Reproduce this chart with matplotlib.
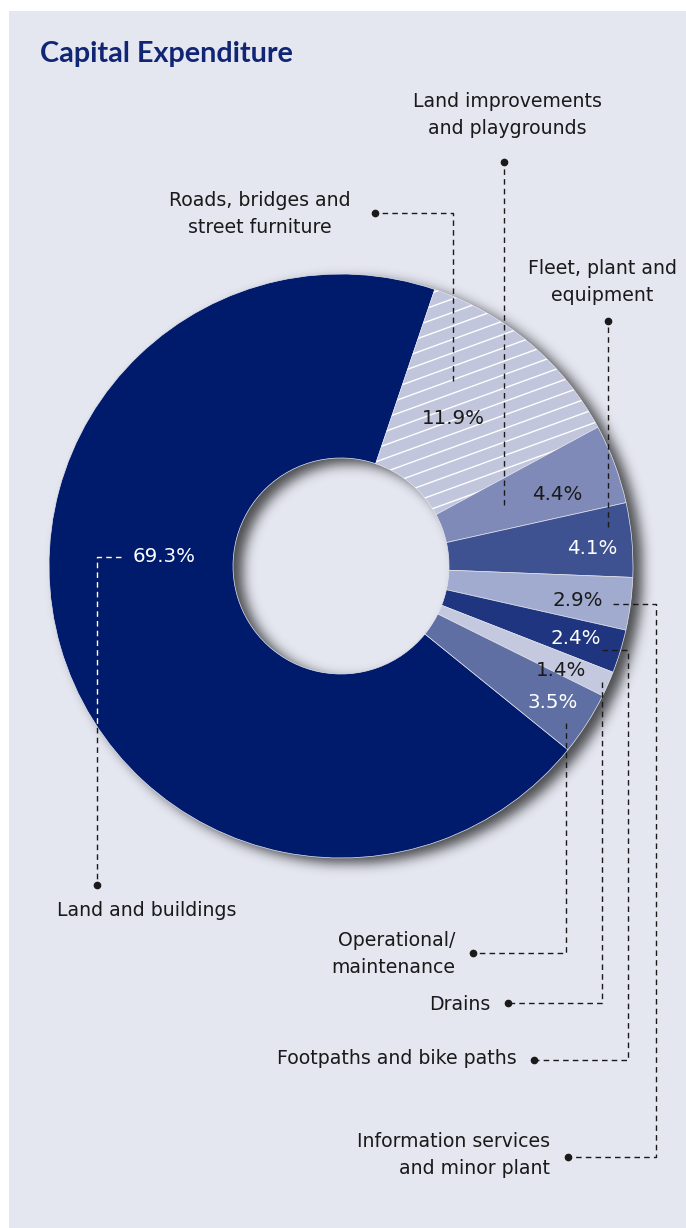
import numpy as np
import matplotlib.pyplot as plt
from matplotlib.patches import Rectangle, Circle

W, H = 686, 1228
plt.rcParams['font.family'] = ['DejaVu Sans']

# capital expenditure breakdown (%), clockwise from the big slice
categories = ["Land and buildings",
              "Roads, bridges and\nstreet furniture",
              "Land improvements\nand playgrounds",
              "Fleet, plant and\nequipment",
              "Information services\nand minor plant",
              "Footpaths and bike paths",
              "Drains",
              "Operational/\nmaintenance"]
shares = [69.3, 11.9, 4.4, 4.1, 2.9, 2.4, 1.4, 3.5]
colors = ["#001b6c", "#c1c6dd", "#7f8ab8", "#3e5191",
          "#a1abcf", "#20357f", "#c4c9df", "#5f6fa3"]
pct_colors = ["white", "#1a1a1a", "#1a1a1a", "white",
              "#1a1a1a", "white", "#1a1a1a", "white"]

# layout (pixels from top-left)
cx, cy = 341, 566
R, R_IN = 292, 108
pct_pos = [(164, 557), (453, 419), (557, 494), (592, 549),
           (578, 601), (576, 638), (561, 670), (553, 703)]
label_pos = [(57, 911, 'left'), (260, 214, 'center'), (507, 115, 'center'),
             (602, 282, 'center'), (550, 1155, 'right'), (517, 1059, 'right'),
             (490, 1005, 'right'), (455, 954, 'right')]
leaders = [
    [(121, 557), (97, 557), (97, 885)],
    [(453, 381), (453, 213), (375, 213)],
    [(504, 505), (504, 162)],
    [(608, 527), (608, 321)],
    [(613, 604), (656, 604), (656, 1157), (568, 1157)],
    [(602, 650), (628, 650), (628, 1060), (534, 1060)],
    [(602, 682), (602, 1003), (508, 1003)],
    [(566, 723), (566, 953), (473, 953)],
]

BG = "#e4e6f0"
INK = "#1a1a1a"

fig = plt.figure(figsize=(W / 100, H / 100), dpi=100, facecolor="white")
ax = fig.add_axes([0, 0, 1, 1])
ax.set_axis_off()

ax.add_patch(Rectangle((9, 0), W - 9, H - 11, facecolor=BG, edgecolor="none", zorder=0))

# soft drop shadow of the ring, offset down-right
yy, xx = np.mgrid[0:H, 0:W]
rr = np.hypot(xx - cx - 9, yy - cy - 5)
ring = ((rr <= R) & (rr >= R_IN)).astype(float)
sig = 6.0
t = np.arange(-18, 19)
k = np.exp(-t ** 2 / (2 * sig ** 2))
k /= k.sum()
blur = np.apply_along_axis(lambda m: np.convolve(m, k, mode="same"), 0, ring)
blur = np.apply_along_axis(lambda m: np.convolve(m, k, mode="same"), 1, blur)
shadow = np.zeros((H, W, 4))
shadow[..., :3] = 0.1
shadow[..., 3] = blur * 0.75
ax.imshow(shadow, extent=(0, W, 0, H), origin="upper", zorder=1, interpolation="bilinear")

wedges, _ = ax.pie(shares, colors=colors, startangle=-39, counterclock=False,
                   radius=R, center=(cx, H - cy),
                   wedgeprops=dict(width=R - R_IN, edgecolor=BG, linewidth=0.5))
for w in wedges:
    w.set_zorder(2)

# white diagonal hatching on the roads slice
ang = np.deg2rad(20)
xs = np.array([cx - 50, cx + 320])
for c in np.arange(-300, 500, 13.5):
    ys = (H - cy) + c + (xs - cx) * np.tan(ang)
    ln, = ax.plot(xs, ys, color="white", lw=1.0, zorder=3)
    ln.set_clip_path(wedges[1])

ax.text(40, H - 62, "Capital Expenditure", fontsize=20.7, fontweight="bold",
        family=["Lato", "DejaVu Sans"], color="#102574", va="baseline",
        ha="left", zorder=6)

for val, (px, py), tc in zip(shares, pct_pos, pct_colors):
    ax.text(px, H - py, f"{val:.1f}%", fontsize=14.3, color=tc,
            ha="center", va="center", zorder=6)

for name, (px, py, al) in zip(categories, label_pos):
    ax.text(px, H - py, name, fontsize=13.6, color=INK, ha=al, va="center",
            multialignment=al, linespacing=1.5, zorder=6)

ring_clip = Circle((cx, H - cy), R, transform=ax.transData)
for i, pts in enumerate(leaders):
    lx = [p[0] for p in pts]
    ly = [H - p[1] for p in pts]
    ax.plot(lx, ly, color=INK, lw=1, ls=(0, (4, 3)), zorder=5)
    ax.plot(lx[-1], ly[-1], "o", ms=4.5, color=INK, zorder=5)
    if i == 0:
        wl, = ax.plot(lx, ly, color="white", lw=1, ls=(0, (4, 3)), zorder=5)
        wl.set_clip_path(ring_clip)

ax.set_xlim(0, W)
ax.set_ylim(0, H)
ax.set_aspect("auto")
fig.savefig("out.png", dpi=100, facecolor="white")
